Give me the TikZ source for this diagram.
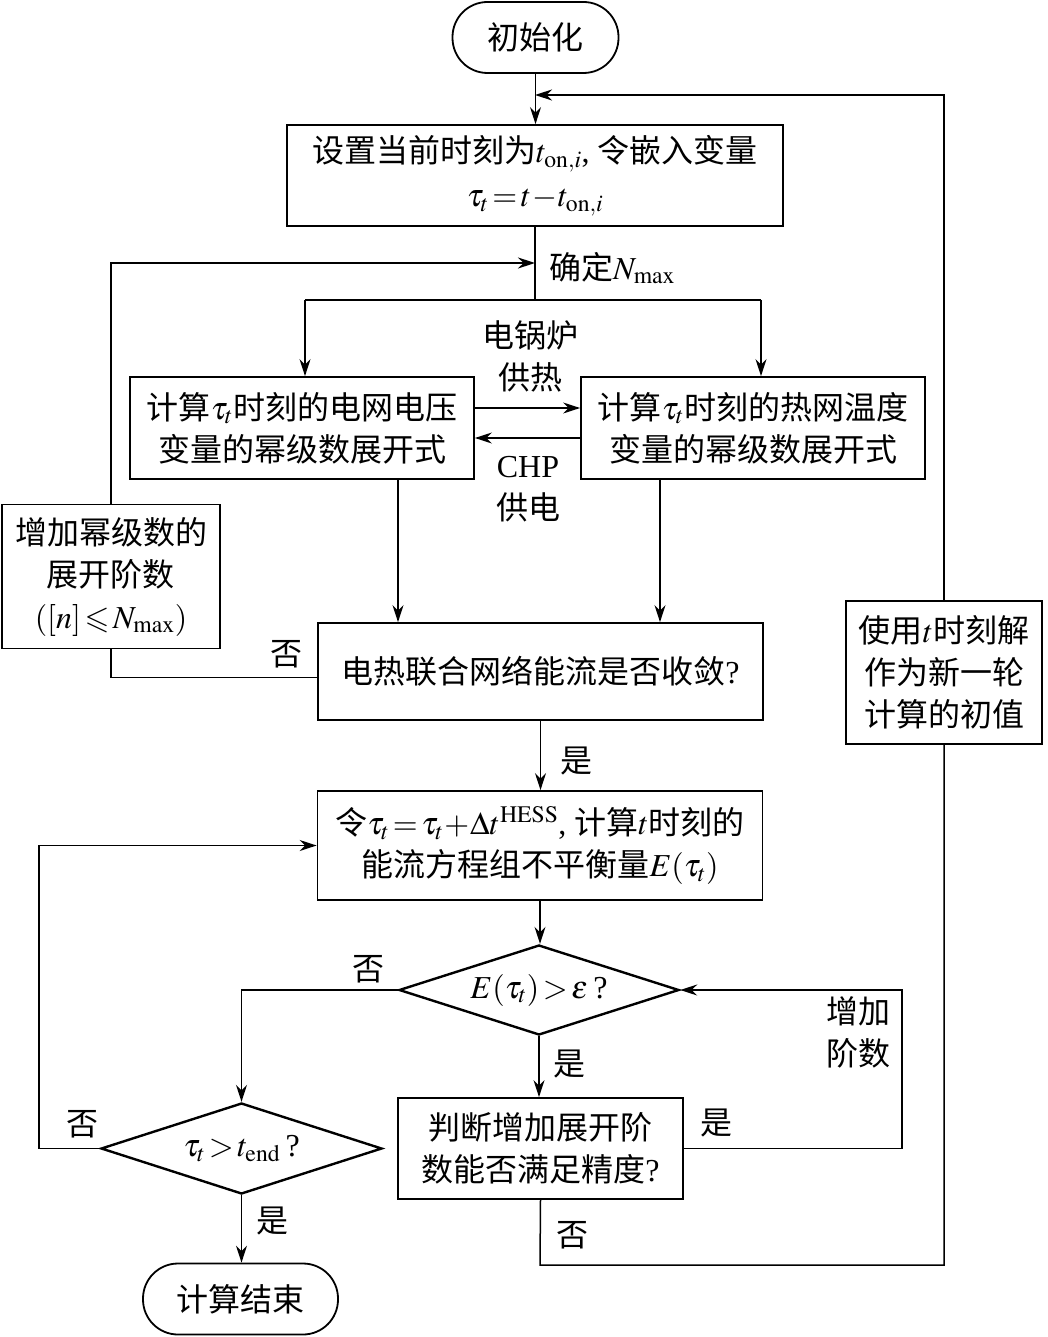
\documentclass[tikz,border=0pt]{standalone}
\usepackage{amssymb}
\usepackage{mathptmx}
\usepackage[no-math]{fontspec}
\setmainfont{Noto Sans CJK SC}
\newfontfamily\lat{Liberation Serif}
\usetikzlibrary{arrows.meta,shapes.geometric}
\begin{document}
\begin{tikzpicture}[x=1pt,y=-1pt,
 every node/.style={font=\fontsize{32}{42}\selectfont},
 box/.style={draw,line width=1.8pt,align=center,inner sep=0pt},
 term/.style={draw,line width=1.8pt,rounded corners=35pt,inner sep=0pt},
 dia/.style={draw,diamond,aspect=3.1,line width=2.4pt,inner sep=0pt},
 lbl/.style={align=center,inner sep=0pt},
 ln/.style={line width=1.5pt},
 arr/.style={line width=1.5pt,-{Stealth[length=17pt,width=11pt]}}]
\useasboundingbox (0,0) rectangle (1047,1337);

% nodes
\node[term,minimum width=166pt,minimum height=71pt] (init) at (535.5,37.5) {初始化};
\node[box,minimum width=496pt,minimum height=101pt] (b1) at (535,175.5)
  {设置当前时刻为$t_{\mathrm{on},i}${\lat ,\ }令嵌入变量\\[2pt]$\tau_t\!=\!t\!-\!t_{\mathrm{on},i}$};
\node[lbl,anchor=west] (nmax) at (549,268) {确定$N_{\mathrm{max}}$};
\node[box,minimum width=344pt,minimum height=102pt] (b2) at (302,428)
  {计算$\tau_t$时刻的电网电压\\变量的幂级数展开式};
\node[box,minimum width=344pt,minimum height=102pt] (b3) at (753,428)
  {计算$\tau_t$时刻的热网温度\\变量的幂级数展开式};
\node[lbl] (lab1) at (530,356) {电锅炉\\供热};
\node[lbl] (lab2) at (528,489) {{\lat CHP}\\供电};
\node[box,minimum width=445pt,minimum height=97pt] (b4) at (540.5,671.5)
  {电热联合网络能流是否收敛{\lat ?}};
\node[box,minimum width=218pt,minimum height=144pt] (b5) at (111,576.5)
  {增加幂级数的\\展开阶数\\$([n]\!\leqslant\! N_{\mathrm{max}})$};
\node[box,minimum width=445pt,minimum height=109pt] (b6) at (540,845.5)
  {令$\tau_t\!=\!\tau_t\!+\!\Delta t^{\mathrm{HESS}}${\lat ,\ }计算$t$时刻的\\能流方程组不平衡量$E(\tau_t)$};
\node[dia,minimum width=280pt,minimum height=90pt] (d1) at (539,990)
  {$E(\tau_t)\!>\!\varepsilon$\,{\lat ?}};
\node[box,minimum width=285pt,minimum height=101pt] (b7) at (540.5,1148.5)
  {判断增加展开阶\\数能否满足精度{\lat ?}};
\node[dia,minimum width=281pt,minimum height=91pt] (d2) at (241.5,1148.5)
  {$\tau_t\!>\!t_{\mathrm{end}}$\,{\lat ?}};
\node[term,minimum width=195pt,minimum height=71pt] (end) at (240.5,1299) {计算结束};
\node[box,minimum width=196pt,minimum height=143pt] (b8) at (944,672.5)
  {使用$t$时刻解\\作为新一轮\\计算的初值};

% labels
\node[lbl] (no1) at (286,654) {否};
\node[lbl] (yes1) at (576,761) {是};
\node[lbl] (no2) at (368,969) {否};
\node[lbl] (yes2) at (569,1064) {是};
\node[lbl] (incr) at (858,1032) {增加\\阶数};
\node[lbl] (yes3) at (716,1123) {是};
\node[lbl] (no3) at (82,1124) {否};
\node[lbl] (yes4) at (272,1221) {是};
\node[lbl] (no4) at (572,1235) {否};

% coordinates
\coordinate (jtop) at (535,95);
\coordinate (j0) at (535,263);
\coordinate (j1) at (535,300);
\coordinate (jl) at (305,300);
\coordinate (jr) at (761,300);
\coordinate (jb) at (540,1265);
\coordinate (jbr) at (944,1265);

% connectors
\draw[arr] (init.south) -- (init.south |- b1.north);
\draw[arr] (b8.north) |- (jtop);
\draw[ln] (b1.south) -- (j1);
\draw[arr] (b5.north) |- (j0);
\draw[ln] (jl) -- (jr);
\draw[arr] (jl) -- (jl |- b2.north);
\draw[arr] (jr) -- (jr |- b3.north);
\draw[arr] ([yshift=20pt]b2.east) -- ([yshift=20pt]b3.west);
\draw[arr] ([yshift=-10pt]b3.west) -- ([yshift=-10pt]b2.east);
\draw[arr] ([xshift=96pt]b2.south) -- ([xshift=96pt]b2.south |- b4.north);
\draw[arr] ([xshift=-93pt]b3.south) -- ([xshift=-93pt]b3.south |- b4.north);
\draw[ln] ([yshift=-6pt]b4.west) -| (b5.south);
\draw[arr] (b4.south) -- (b4.south |- b6.north);
\draw[arr] (b6.south) -- (b6.south |- d1.north);
\draw[arr] (d1.south) -- (d1.south |- b7.north);
\draw[arr] (d1.west) -| (d2.north);
\draw[arr] (b7.east) -- ++(218,0) |- (d1.east);
\draw[arr] (d2.west) -- ++(-61,0) |- (b6.west);
\draw[arr] (d2.south) -- (d2.south |- end.north);
\draw[ln] (b7.south) -- (jb) -- (jbr) -- (b8.south);
\end{tikzpicture}
\end{document}
